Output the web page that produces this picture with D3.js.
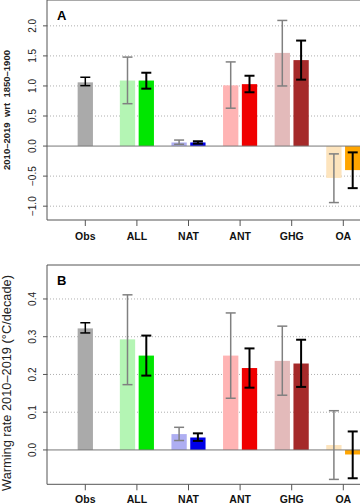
<!DOCTYPE html>
<html>
<head>
<meta charset="utf-8">
<script src="https://cdn.jsdelivr.net/npm/d3@7"></script>
<style>
  body { margin: 0; background: #fff; }
  svg { display: block; font-family: 'Liberation Sans', Arial, sans-serif; }
</style>
</head>
<body>
<svg id="chart" width="360" height="504"></svg>
<script>
// groups along the x axis
const groups = ['Obs', 'ALL', 'NAT', 'ANT', 'GHG', 'OA'];

// panel A: 2010-2019 wrt 1850-1900 (value, low, high); null = no bar
const aLight = [[1.06, 1.005, 1.145], [1.09, 0.705, 1.48], [0.06, 0.03, 0.10], [1.01, 0.63, 1.40], [1.55, 1.00, 2.09], [-0.53, -0.94, -0.13]];
const aDark = [null, [1.09, 0.955, 1.22], [0.06, 0.04, 0.08], [1.03, 0.895, 1.17], [1.43, 1.105, 1.755], [-0.40, -0.70, -0.105]];

// panel B: warming rate 2010-2019 (°C/decade)
const bLight = [[0.322, 0.31, 0.337], [0.293, 0.173, 0.411], [0.042, 0.025, 0.06], [0.25, 0.137, 0.363], [0.236, 0.145, 0.328], [0.013, -0.078, 0.104]];
const bDark = [null, [0.25, 0.197, 0.303], [0.033, 0.024, 0.044], [0.217, 0.165, 0.269], [0.229, 0.167, 0.292], [-0.012, -0.075, 0.049]];

const lightColors = ['#aaaaaa', '#b4f5b4', '#aeaef2', '#ffb4b4', '#e3baba', '#fde4bd'];
const darkColors = [null, '#00e600', '#0000e6', '#f00000', '#a52a2a', '#ffa500'];

const aTicks = [-1.0, -0.5, 0.0, 0.5, 1.0, 1.5, 2.0];
const bTicks = [0.0, 0.1, 0.2, 0.3, 0.4];

const svg = d3.select('#chart');
const left = 47, right = 380;
const barW = 15.3, off = 9.4;

const x = d3.scalePoint().domain(groups).range([85.3, 343.3]);

function panel(opts) {
  const y = d3.scaleLinear().domain(opts.domain).range([opts.bottom, opts.top]);
  const g = svg.append('g');

  // dotted grid
  g.selectAll('.grid').data(opts.ticks.filter(t => t !== 0)).enter()
      .append('line')
      .attr('x1', left).attr('x2', right)
      .attr('y1', d => y(d)).attr('y2', d => y(d))
      .attr('stroke', '#9a9a9a').attr('stroke-width', 0.8)
      .attr('stroke-dasharray', '1,2');

  // bars
  const light = opts.light.map((d, i) => ({v: d, i: i}));
  const dark = opts.dark.map((d, i) => ({v: d, i: i})).filter(d => d.v);

  const cx = d => d.i === 0 ? x(groups[d.i]) : x(groups[d.i]) - off;
  g.selectAll('.lb').data(light).enter().append('rect')
      .attr('x', d => cx(d) - barW / 2)
      .attr('width', barW)
      .attr('y', d => y(Math.max(0, d.v[0])))
      .attr('height', d => Math.abs(y(d.v[0]) - y(0)))
      .attr('fill', d => lightColors[d.i]);
  g.selectAll('.db').data(dark).enter().append('rect')
      .attr('x', d => x(groups[d.i]) + off - barW / 2)
      .attr('width', barW)
      .attr('y', d => y(Math.max(0, d.v[0])))
      .attr('height', d => Math.abs(y(d.v[0]) - y(0)))
      .attr('fill', d => darkColors[d.i]);

  // zero line
  g.append('line')
      .attr('x1', left).attr('x2', right)
      .attr('y1', y(0)).attr('y2', y(0))
      .attr('stroke', '#777').attr('stroke-width', 1);

  // error bars
  function errBars(data, xf, color, sw) {
    const e = g.selectAll(null).data(data).enter().append('g')
        .attr('stroke', d => d.i === 0 ? '#000' : color)
        .attr('stroke-width', sw);
    e.append('line')
        .attr('x1', xf).attr('x2', xf)
        .attr('y1', d => y(d.v[1])).attr('y2', d => y(d.v[2]));
    [1, 2].forEach(k => {
      e.append('line')
          .attr('x1', d => xf(d) - 5).attr('x2', d => xf(d) + 5)
          .attr('y1', d => y(d.v[k])).attr('y2', d => y(d.v[k]));
    });
  }
  errBars(light, cx, '#808080', 1.5);
  errBars(dark, d => x(groups[d.i]) + off, '#000', 2);

  // frame (left, top, bottom)
  g.append('path')
      .attr('d', `M${right},${opts.top}H${left}V${opts.bottom}H${right}`)
      .attr('fill', 'none').attr('stroke', '#555').attr('stroke-width', 1);

  // y ticks
  g.selectAll('.yt').data(opts.ticks).enter().append('line')
      .attr('x1', left - 4).attr('x2', left)
      .attr('y1', d => y(d)).attr('y2', d => y(d))
      .attr('stroke', '#555');
  g.selectAll('.yl').data(opts.ticks).enter().append('text')
      .attr('transform', d => `translate(${35.5},${y(d)}) rotate(-90)`)
      .attr('text-anchor', 'middle')
      .attr('font-size', 10)
      .attr('fill', '#222')
      .text(d => d3.format('.1f')(d).replace('-', '\u2212'));

  // x ticks and labels
  g.selectAll('.xt').data(groups).enter().append('line')
      .attr('x1', d => x(d)).attr('x2', d => x(d))
      .attr('y1', opts.bottom).attr('y2', opts.bottom + 6)
      .attr('stroke', '#555');
  g.selectAll('.xl').data(groups).enter().append('text')
      .attr('x', d => x(d)).attr('y', Math.min(opts.bottom + 20, 503))
      .attr('text-anchor', 'middle')
      .attr('font-size', 10.5).attr('font-weight', 'bold')
      .attr('fill', '#111')
      .text(d => d);

  // panel letter
  g.append('text')
      .attr('x', 57).attr('y', opts.top + 20)
      .attr('font-size', 13).attr('font-weight', 'bold')
      .text(opts.letter);

  // y title
  g.append('text')
      .attr('transform', `translate(${opts.titleX},${opts.titleY}) rotate(-90)`)
      .attr('text-anchor', 'middle')
      .attr('font-size', opts.titleSize)
      .attr('font-weight', opts.titleWeight)
      .attr('fill', '#222')
      .attr('xml:space', 'preserve')
      .text(opts.title);
}

panel({
  letter: 'A', top: 0, bottom: 220, domain: [-1.23, 2.43], ticks: aTicks,
  light: aLight, dark: aDark,
  title: '2010\u20132019  wrt  1850\u20131900', titleX: 10, titleY: 110, titleSize: 9.5, titleWeight: 'bold'
});

panel({
  letter: 'B', top: 265, bottom: 484.3, domain: [-0.091, 0.49], ticks: bTicks,
  light: bLight, dark: bDark,
  title: 'Warming rate 2010\u20132019 (\u00b0C/decade)', titleX: 11, titleY: 383, titleSize: 12.8, titleWeight: 'normal'
});
</script>
</body>
</html>
